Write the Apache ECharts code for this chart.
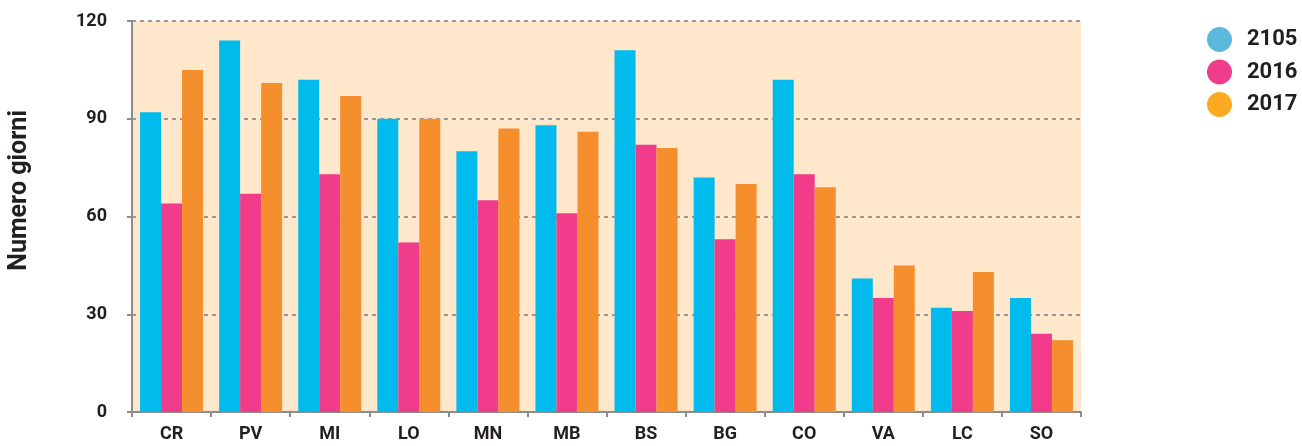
<!DOCTYPE html>
<html>
<head>
<meta charset="utf-8">
<script src="https://cdn.jsdelivr.net/npm/echarts@6/dist/echarts.min.js"></script>
<style>
  html, body { margin: 0; padding: 0; background: #fff; }
  #chart { width: 1302px; height: 446px; }
</style>
</head>
<body>
<div id="chart"></div>
<script>
const categories = ["CR", "PV", "MI", "LO", "MN", "MB", "BS", "BG", "CO", "VA", "LC", "SO"];
const seriesNames = ["2105", "2016", "2017"];
const values2105 = [92, 114, 102, 90, 80, 88, 111, 72, 102, 41, 32, 35];
const values2016 = [64, 67, 73, 52, 65, 61, 82, 53, 73, 35, 31, 24];
const values2017 = [105, 101, 97, 90, 87, 86, 81, 70, 69, 45, 43, 22];
const yTicks = [0, 30, 60, 90, 120];

const font = "Roboto, 'DejaVu Sans Condensed', sans-serif";
const barColors = ["#00BBEB", "#F03C8A", "#F58E2C"];
const legendColors = ["#5BB9DE", "#EE3D8B", "#FCAA22"];
const axisGray = "#8c8c8c";
const ink = "#231f20";

const chart = echarts.init(document.getElementById("chart"));

chart.setOption({
  animation: false,
  textStyle: { fontFamily: font },
  legend: {
    orient: "vertical",
    left: 1202,
    top: 22,
    icon: "circle",
    itemWidth: 25,
    itemHeight: 25,
    itemGap: 7.5,
    selectedMode: false,
    textStyle: {
      fontFamily: font,
      fontWeight: "bold",
      fontSize: 22,
      color: ink,
      padding: [0, 0, 0, 10],
    },
    data: seriesNames.map((n, i) => ({ name: n, itemStyle: { color: legendColors[i] } })),
  },
  grid: {
    left: 132,
    top: 21,
    width: 949,
    height: 391,
    show: true,
    backgroundColor: "#FEE7CA",
    borderWidth: 0,
  },
  graphic: [
    {
      type: "text",
      left: 7,
      top: 110,
      rotation: Math.PI / 2,
      style: {
        text: "Numero giorni",
        font: "bold 25px " + font,
        fill: ink,
      },
    },
  ],
  xAxis: {
    type: "category",
    data: categories,
    axisLine: { lineStyle: { color: axisGray, width: 2 } },
    axisTick: { show: true, length: 5, lineStyle: { color: axisGray, width: 2 } },
    axisLabel: {
      margin: 13,
      fontSize: 18,
      fontWeight: "bold",
      color: ink,
      fontFamily: font,
    },
  },
  yAxis: {
    type: "value",
    min: yTicks[0],
    max: yTicks[yTicks.length - 1],
    interval: 30,
    axisLine: { show: true, lineStyle: { color: axisGray, width: 2 } },
    axisTick: { show: true, length: 5, lineStyle: { color: axisGray, width: 2 } },
    axisLabel: {
      margin: 25,
      fontSize: 18,
      fontWeight: "bold",
      color: ink,
      fontFamily: font,
    },
    splitLine: {
      show: true,
      lineStyle: { color: "#999", width: 2, type: [4, 4] },
    },
  },
  series: [values2105, values2016, values2017].map((vals, i) => ({
    name: seriesNames[i],
    type: "bar",
    data: vals,
    barWidth: 21,
    barGap: "0%",
    itemStyle: { color: barColors[i] },
  })),
});
</script>
</body>
</html>
